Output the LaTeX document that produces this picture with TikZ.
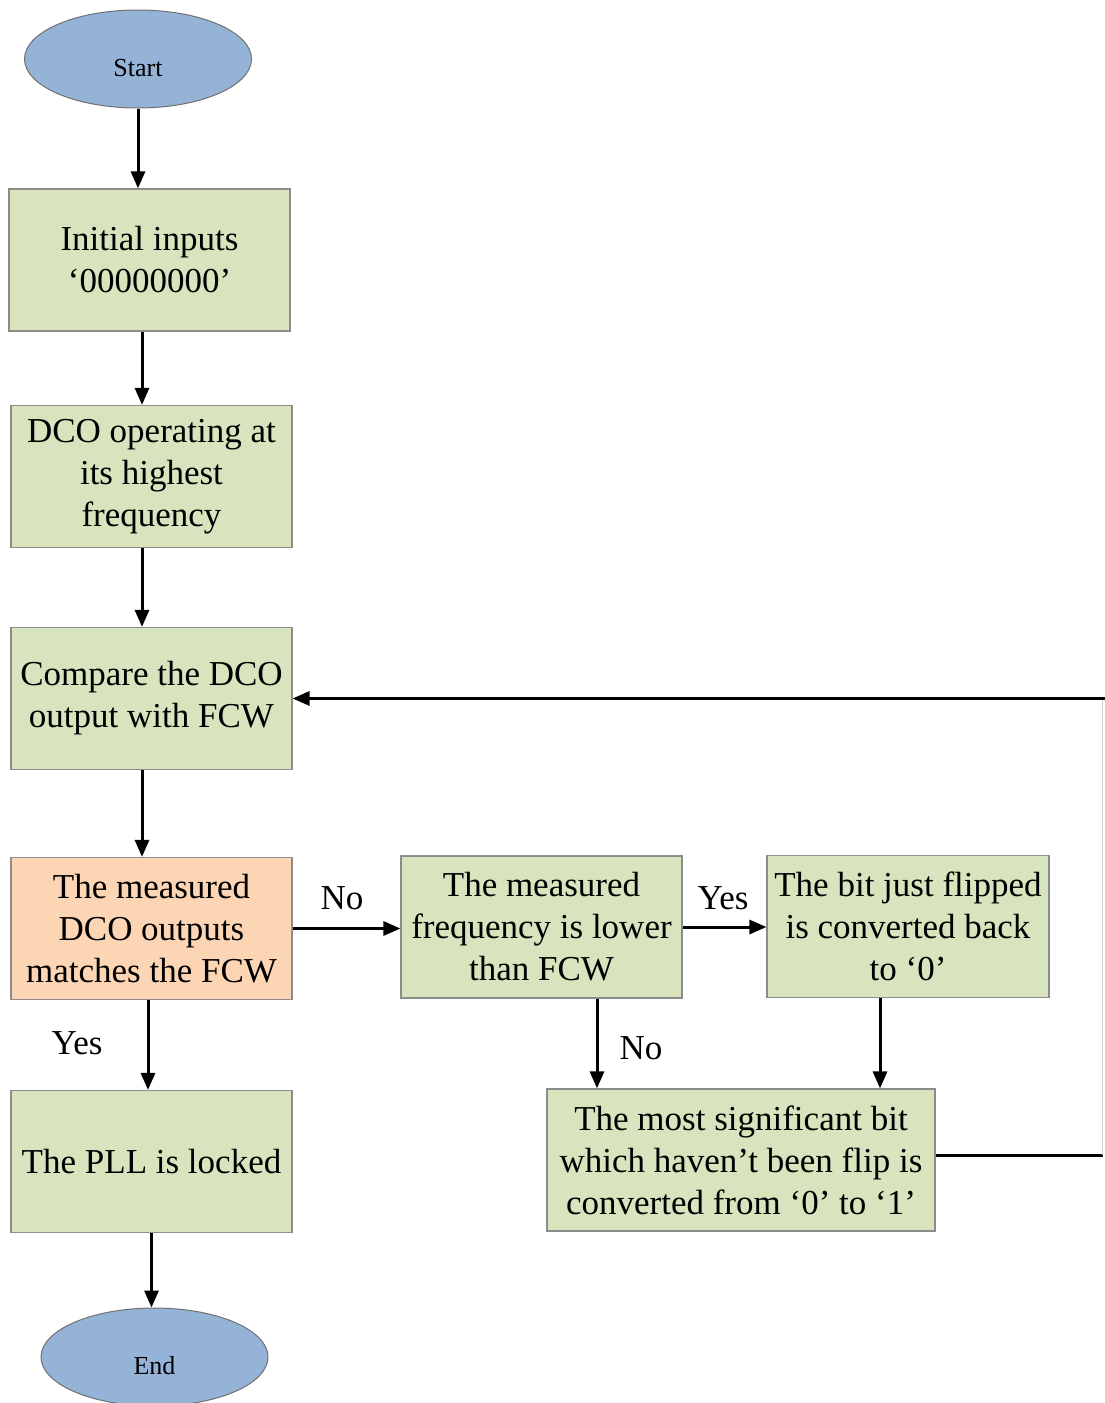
\documentclass[tikz,border=0pt]{standalone}
\usepackage{fontspec}
\setmainfont{Liberation Serif}
\usetikzlibrary{arrows.meta,shapes.geometric}

\definecolor{boxgreen}{RGB}{215,228,189}
\definecolor{boxorange}{RGB}{252,213,181}
\definecolor{termblue}{RGB}{149,179,215}
\definecolor{edgegray}{RGB}{140,140,140}

\begin{document}
\begin{tikzpicture}[x=1pt, y=-1pt,
	every node/.style={font=\fontsize{35}{42}\selectfont, align=center, inner sep=0pt},
	box/.style={rectangle, draw=edgegray, line width=1.2pt, fill=boxgreen, minimum width=281, minimum height=142},
	check/.style={box, fill=boxorange},
	terminal/.style={ellipse, draw=edgegray!80!black, line width=1pt, fill=termblue, minimum width=227, minimum height=98, text height=34pt, text depth=0pt, font=\fontsize{26}{30}\selectfont},
	flow/.style={line width=3pt, -{Triangle[length=17pt, width=14pt]}},
	plain/.style={line width=3pt}]

	\useasboundingbox (0,0) rectangle (1104,1403);

	\node[terminal] (start) at (138, 59) {Start};
	\node[box] (init) at (149.5, 260) {Initial inputs\\‘00000000’};
	\node[box] (high) at (151.5, 476.5) {DCO operating at\\its highest\\frequency};
	\node[box] (cmp) at (151.5, 698.5) {Compare the DCO\\output with FCW};
	\node[check] (match) at (151.5, 928.5) {The measured\\DCO outputs\\matches the FCW};
	\node[box] (lower) at (541.5, 927) {The measured\\frequency is lower\\than FCW};
	\node[box, minimum width=282] (back) at (908, 926.5) {The bit just flipped\\is converted back\\to ‘0’};
	\node[box, minimum width=388] (msb) at (741, 1160) {The most significant bit\\which haven’t been flip is\\converted from ‘0’ to ‘1’};
	\node[box] (locked) at (151.5, 1161.5) {The PLL is locked};
	\node[terminal] (end) at (154.5, 1357) {End};

	\node (no1) at (342, 898) {No};
	\node (yes1) at (723, 898) {Yes};
	\node (no2) at (641, 1048) {No};
	\node (yes2) at (77, 1043) {Yes};

	\coordinate (loop) at (1102.5, 698.5);

	\draw[flow] (start) -- (start |- init.north);
	\draw[flow] ([xshift=-7.5pt]init.south) -- ([xshift=-7.5pt]init.south |- high.north);
	\draw[flow] ([xshift=-9.5pt]high.south) -- ([xshift=-9.5pt]high.south |- cmp.north);
	\draw[flow] ([xshift=-9.5pt]cmp.south) -- ([xshift=-9.5pt]cmp.south |- match.north);
	\draw[flow] (match.east) -- (match.east -| lower.west);
	\draw[flow] (lower.east) -- (lower.east -| back.west);
	\draw[flow] ([xshift=55.5pt]lower.south) -- ([xshift=55.5pt]lower.south |- msb.north);
	\draw[flow] ([xshift=-28pt]back.south) -- ([xshift=-28pt]back.south |- msb.north);
	\draw[flow] ([xshift=-3.5pt]match.south) -- ([xshift=-3.5pt]match.south |- locked.north);
	\draw[flow] (locked.south) -- (locked.south |- end.north);

	% feedback to the comparison step
	\draw[plain] ([yshift=5pt]msb.east) -- ([yshift=5pt]msb.east -| loop);
	\draw[line width=1pt, edgegray!40] ([yshift=5pt]msb.east -| loop) -- (loop);
	\draw[flow] ([xshift=2pt]loop) -- (cmp.east);
\end{tikzpicture}
\end{document}
